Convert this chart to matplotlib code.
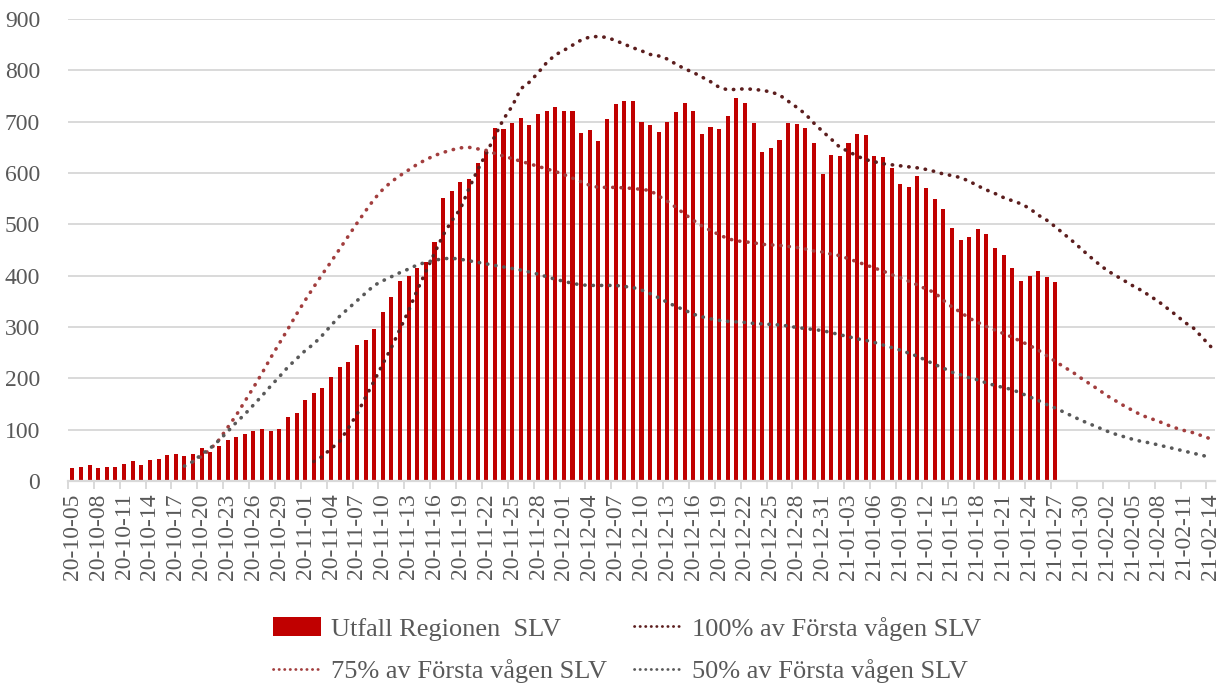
import numpy as np
import pandas as pd
import matplotlib
matplotlib.use("Agg")
import matplotlib.pyplot as plt
from matplotlib.lines import Line2D
from matplotlib.patches import Patch

plt.rcParams["font.family"] = ["Liberation Serif", "DejaVu Serif"]

# categories: one per day, 20-10-05 .. 21-02-14
dates = pd.date_range("2020-10-05", "2021-02-14", freq="D")
date_labels = [d.strftime("%y-%m-%d") for d in dates]

# daily outcome (bars), from 20-10-05
utfall = [25, 28, 32, 25, 27, 28, 34, 38, 32, 40, 42, 50, 52, 48, 52, 65, 56, 69, 79, 85,
          91, 98, 102, 98, 102, 124, 133, 157, 172, 182, 203, 222, 232, 265, 275, 297, 330, 359, 390, 400,
          414, 427, 465, 552, 565, 583, 589, 620, 643, 688, 686, 697, 707, 694, 715, 721, 729, 721, 721, 677,
          684, 662, 705, 734, 740, 740, 699, 693, 680, 699, 719, 736, 721, 676, 690, 686, 711, 746, 736, 697,
          641, 649, 664, 697, 695, 688, 658, 598, 635, 633, 658, 676, 674, 633, 631, 609, 578, 572, 595, 570,
          550, 529, 493, 470, 476, 490, 482, 454, 441, 415, 390, 400, 409, 397, 388]

# 100% of first wave, starts at day index 28
wave100_start = 28
wave100 = [38, 48, 63, 77, 103, 130, 163, 195, 228, 260, 296, 332, 372, 408, 444, 479, 507, 530, 570, 606,
           638, 672, 705, 730, 764, 777, 795, 815, 830, 839, 849, 859, 865, 866, 864, 858, 851, 844, 838, 831,
           828, 822, 812, 803, 796, 787, 778, 767, 762, 763, 764, 763, 761, 758, 752, 740, 728, 715, 697, 681,
           666, 650, 642, 633, 626, 622, 618, 616, 614, 612, 610, 607, 603, 598, 595, 591, 584, 575, 567, 560,
           552, 546, 540, 531, 518, 508, 495, 481, 467, 452, 437, 423, 410, 400, 390, 380, 371, 360, 349, 336,
           323, 309, 298, 280, 262]

# 75% of first wave, starts at day index 14
wave75_start = 14
wave75 = [38, 48, 62, 80, 104, 128, 155, 182, 210, 240, 268, 296, 325, 352, 378, 403, 427, 452, 477, 502,
          526, 549, 568, 583, 595, 606, 617, 626, 634, 640, 645, 649, 650, 647, 644, 638, 633, 628, 623, 618,
          613, 608, 603, 597, 590, 583, 576, 572, 572, 572, 571, 570, 568, 566, 555, 545, 533, 520, 508, 497,
          488, 480, 472, 468, 466, 464, 461, 460, 459, 457, 455, 452, 448, 446, 442, 439, 433, 427, 421, 415,
          409, 402, 396, 389, 382, 374, 367, 352, 339, 329, 317, 309, 301, 294, 287, 280, 272, 264, 255, 244,
          233, 222, 212, 200, 189, 178, 166, 156, 146, 137, 128, 122, 116, 109, 103, 98, 94, 88, 82]

# 50% of first wave, starts at day index 13
wave50_start = 13
wave50 = [29, 38, 52, 64, 79, 96, 114, 130, 148, 166, 185, 203, 222, 238, 254, 267, 284, 303, 321, 336,
          351, 366, 381, 390, 398, 406, 413, 421, 426, 430, 433, 434, 432, 429, 426, 423, 420, 417, 414, 411,
          407, 403, 398, 393, 389, 385, 382, 381, 381, 381, 381, 379, 377, 372, 365, 357, 348, 340, 333, 325,
          320, 316, 313, 311, 310, 309, 307, 306, 305, 304, 302, 299, 297, 295, 293, 289, 285, 281, 277, 274,
          270, 265, 260, 255, 249, 243, 235, 227, 220, 212, 207, 201, 197, 191, 186, 182, 178, 171, 164, 157,
          149, 142, 134, 126, 118, 111, 104, 97, 91, 86, 81, 77, 74, 70, 66, 62, 58, 54, 50, 46]

BAR_RED = "#c00000"
C100 = "#5c1e1e"
C75 = "#a23e3e"
C50 = "#595959"
GRID = "#d9d9d9"
TXT = "#595959"
FS = 17
LEG_FS = 19

fig = plt.figure(figsize=(12.22, 6.84), dpi=100)
ax = fig.add_axes([68 / 1222, 1 - 481 / 684, 1147 / 1222, 462 / 684])

ax.bar(np.arange(len(utfall)), utfall, width=0.47, color=BAR_RED, zorder=2)

dot_style = dict(linestyle=(0, (0.1, 2.2)), linewidth=2.6, dash_capstyle="round", zorder=3)
ax.plot(np.arange(wave100_start, wave100_start + len(wave100)), wave100, color=C100, **dot_style)
ax.plot(np.arange(wave75_start, wave75_start + len(wave75)), wave75, color=C75, **dot_style)
ax.plot(np.arange(wave50_start, wave50_start + len(wave50)), wave50, color=C50, **dot_style)

n = len(date_labels)
ax.set_xlim(-0.5, n - 0.5)
ax.set_ylim(0, 900)
ax.set_yticks(range(0, 901, 100))
ax.yaxis.grid(True, color=GRID, linewidth=1.4, zorder=0)
ax.set_axisbelow(True)

lab_pos = np.arange(0, n, 3)
ax.set_xticks(lab_pos)
ax.set_xticklabels([date_labels[i] for i in lab_pos], rotation=90)
ax.set_xticks(np.arange(-0.5, n, 3), minor=True)
ax.tick_params(axis="x", which="major", length=0, pad=9, labelsize=FS, labelcolor=TXT)
ax.tick_params(axis="x", which="minor", length=6, width=1.4, color=GRID)
ax.tick_params(axis="y", length=0, pad=20, labelsize=FS, labelcolor=TXT)

for s in ["left", "right", "top"]:
    ax.spines[s].set_visible(False)
ax.spines["bottom"].set_color(GRID)
ax.spines["bottom"].set_linewidth(1.6)

leg_dots = dict(linestyle=(0, (0.1, 1.9)), linewidth=2.0, dash_capstyle="round")
handles = [
    Patch(facecolor=BAR_RED, edgecolor="none"),
    Line2D([], [], color=C75, **leg_dots),
    Line2D([], [], color=C100, **leg_dots),
    Line2D([], [], color=C50, **leg_dots),
]
labels = ["Utfall Regionen  SLV", "75% av Första vågen SLV",
          "100% av Första vågen SLV", "50% av Första vågen SLV"]
leg = fig.legend(handles, labels, ncol=2, loc="center", bbox_to_anchor=(0.5130, 0.050),
                 frameon=False, fontsize=LEG_FS, handlelength=1.8, handletextpad=0.4,
                 columnspacing=1.0, labelspacing=0.7)
for t in leg.get_texts():
    t.set_color(TXT)

fig.savefig("out.png", dpi=100)
